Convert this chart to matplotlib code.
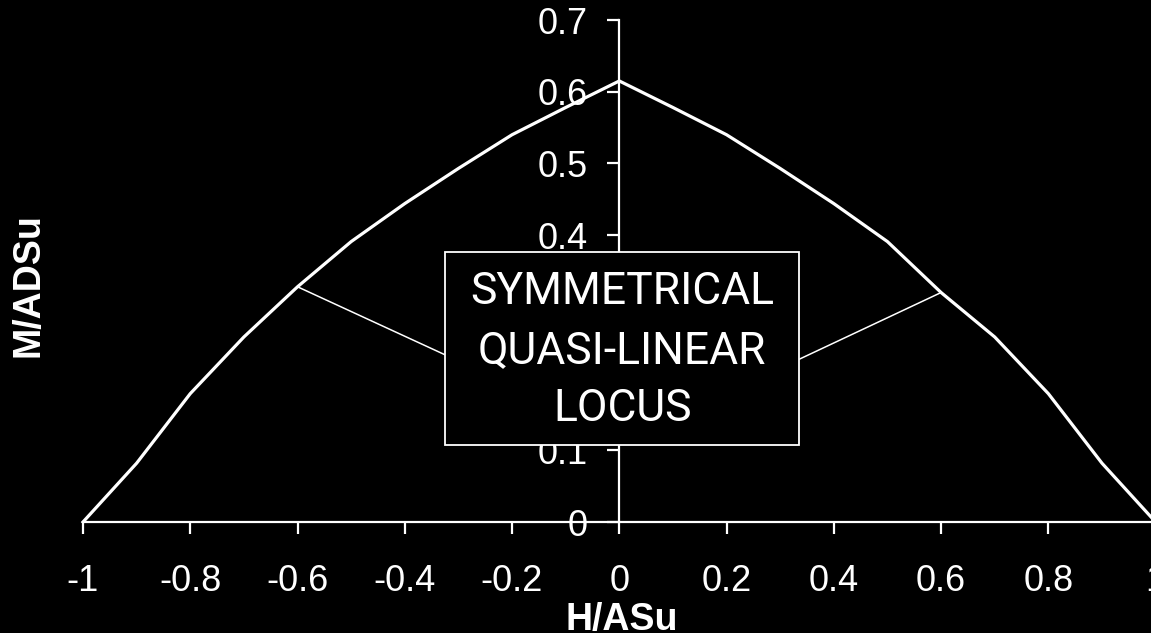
import matplotlib
matplotlib.use("Agg")
import matplotlib.pyplot as plt
from matplotlib.patches import Rectangle
from matplotlib import font_manager

# Interaction diagram: normalised moment vs normalised horizontal load
h_values = [-1.0, -0.9, -0.8, -0.7, -0.6, -0.5, -0.4, -0.3, -0.2, -0.1, 0.0,
            0.1, 0.2, 0.3, 0.4, 0.5, 0.6, 0.7, 0.8, 0.9, 1.0]
m_values = [0.0, 0.082, 0.179, 0.258, 0.328, 0.391, 0.444, 0.493, 0.540, 0.578, 0.615,
            0.578, 0.540, 0.493, 0.444, 0.391, 0.320, 0.258, 0.179, 0.082, 0.0]

x_ticks = [-1, -0.8, -0.6, -0.4, -0.2, 0, 0.2, 0.4, 0.6, 0.8, 1]
x_tick_labels = ["-1", "-0.8", "-0.6", "-0.4", "-0.2", "0", "0.2", "0.4", "0.6", "0.8", "1"]
y_ticks = [0, 0.1, 0.2, 0.3, 0.4, 0.5, 0.6, 0.7]
y_tick_labels = ["0", "0.1", "0.2", "0.3", "0.4", "0.5", "0.6", "0.7"]

x_label = "H/ASu"
y_label = "M/ADSu"
note_text = "SYMMETRICAL\nQUASI-LINEAR\nLOCUS"

available = {f.name for f in font_manager.fontManager.ttflist}
base_font = "Liberation Sans" if "Liberation Sans" in available else "DejaVu Sans"
if "Liberation Sans Narrow" in available:
    narrow_font = "Liberation Sans Narrow"
elif "Roboto" in available:
    narrow_font = "Roboto"
else:
    narrow_font = base_font

plt.rcParams["font.family"] = [base_font, "DejaVu Sans"]

W, H, DPI = 1151, 633, 100
fig = plt.figure(figsize=(W / DPI, H / DPI), dpi=DPI, facecolor="black")
ax = fig.add_axes([83 / W, 111 / H, 1072.6 / W, 502 / H], facecolor="black")

ax.plot(h_values, m_values, color="white", lw=2.3, solid_joinstyle="miter", zorder=3,
        clip_on=False)

ax.set_xlim(-1, 1)
ax.set_ylim(0, 0.7)

for side in ("top", "right"):
    ax.spines[side].set_visible(False)
ax.spines["left"].set_position(("data", 0))
ax.spines["bottom"].set_position(("data", 0))
for side in ("left", "bottom"):
    ax.spines[side].set_color("white")
    ax.spines[side].set_linewidth(1.6)

ax.set_xticks(x_ticks)
ax.set_xticklabels(x_tick_labels)
ax.set_yticks(y_ticks)
ax.set_yticklabels(y_tick_labels)
ax.tick_params(axis="x", direction="out", length=8.5, width=1.6, color="white",
               labelcolor="white", labelsize=26, pad=22)
ax.tick_params(axis="y", direction="out", length=8.5, width=1.6, color="white",
               labelcolor="white", labelsize=26, pad=14)

fig.text(622 / W, (H - 630) / H, x_label, color="white", fontsize=27,
         fontweight="bold", ha="center", va="baseline")
fig.text(28 / W, 1 - 285 / H, y_label, color="white", fontsize=27,
         fontweight="bold", ha="center", va="center", rotation=90)

# Callout box with leader lines to the curve
box_x0, box_x1 = -0.3245, 0.3356
box_y0, box_y1 = 0.1074, 0.376
ax.add_patch(Rectangle((box_x0, box_y0), box_x1 - box_x0, box_y1 - box_y0,
                       facecolor="black", edgecolor="white", lw=1.3, zorder=6))
ax.text((box_x0 + box_x1) / 2, (box_y0 + box_y1) / 2 - 0.003, note_text, color="white",
        family=[narrow_font, "DejaVu Sans"], fontsize=32, fontweight="normal",
        ha="center", va="center", multialignment="center", linespacing=1.5, zorder=7)

left_idx = h_values.index(-0.6)
right_idx = h_values.index(0.6)
ax.annotate("", xy=(h_values[left_idx], m_values[left_idx]), xytext=(box_x0, 0.233),
            arrowprops=dict(arrowstyle="-", color="white", lw=1.1,
                            shrinkA=0, shrinkB=0), zorder=5)
ax.annotate("", xy=(h_values[right_idx], m_values[right_idx]), xytext=(box_x1, 0.227),
            arrowprops=dict(arrowstyle="-", color="white", lw=1.1,
                            shrinkA=0, shrinkB=0), zorder=5)

fig.savefig("out.png", dpi=DPI, facecolor="black")
